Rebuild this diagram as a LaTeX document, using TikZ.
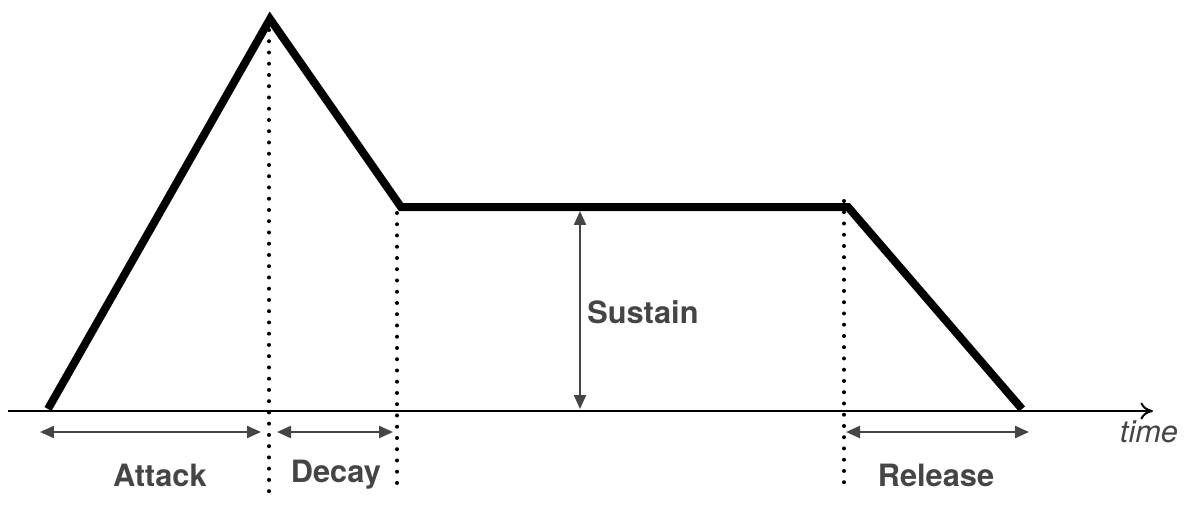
\documentclass[tikz,border=0pt]{standalone}
\usepackage{fontspec}
\setmainfont{TeX Gyre Heros}
\usetikzlibrary{arrows.meta}
\definecolor{labelgray}{HTML}{454545}
\tikzset{
  envelope/.style={line width=0.16cm, line join=miter, line cap=butt},
  axisline/.style={line width=0.04cm, -{To[length=0.25cm,width=0.34cm]}},
  guide/.style={line width=0.08cm, line cap=round, dash pattern=on 0pt off 0.225cm},
  span/.style={labelgray, line width=0.045cm, {Triangle[length=0.28cm,width=0.24cm]}-{Triangle[length=0.28cm,width=0.24cm]}},
  phase/.style={labelgray, font=\fontsize{17.5}{20}\selectfont\bfseries, inner sep=0pt},
  timelabel/.style={labelgray, font=\fontsize{17.5}{20}\selectfont\itshape, inner sep=0pt}
}
\begin{document}
\begin{tikzpicture}[x=0.02cm,y=-0.02cm]
\useasboundingbox (0,0) rectangle (1200,510);
% envelope points
\coordinate (start) at (48,409);
\coordinate (peak) at (270,19);
\coordinate (sus1) at (401,207);
\coordinate (sus2) at (848,207);
\coordinate (rel) at (1022,409);
% axis
\coordinate (axL) at (8,411);
\coordinate (axR) at (1153,411);
\draw[axisline] (axL) -- (axR);
% guides
\coordinate (g1t) at (269,30);   \coordinate (g1b) at (269,494);
\coordinate (g2t) at (397,213);  \coordinate (g2b) at (397,494);
\coordinate (g3t) at (844,201);  \coordinate (g3b) at (844,483);
\draw[guide] (g1t) -- (g1b);
\draw[guide] (g2t) -- (g2b);
\draw[guide] (g3t) -- (g3b);
% envelope
\draw[envelope] (start) -- (peak) -- (sus1) -- (sus2) -- (rel);
% spans
\coordinate (a1) at (40,432);  \coordinate (a2) at (261,432);
\coordinate (d1) at (277,432); \coordinate (d2) at (393,432);
\coordinate (r1) at (846,432); \coordinate (r2) at (1029,432);
\coordinate (s1) at (580,211); \coordinate (s2) at (580,409);
\draw[span] (a1) -- (a2);
\draw[span] (d1) -- (d2);
\draw[span] (r1) -- (r2);
\draw[span] (s1) -- (s2);
% labels
\node[phase] (attack) at (160,475) {Attack};
\node[phase] (decay) at (336,475) {Decay};
\node[phase] (release) at (936,475) {Release};
\node[phase, anchor=west] (sustain) at (587,312) {Sustain};
\node[timelabel] (time) at (1149,432) {time};
\end{tikzpicture}
\end{document}
